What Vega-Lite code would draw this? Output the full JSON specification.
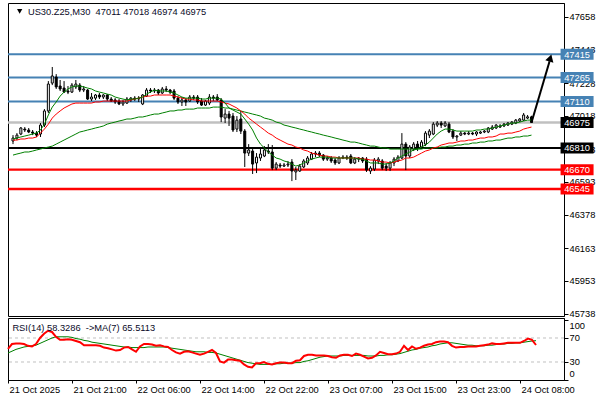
{
  "$schema": "https://vega.github.io/schema/vega-lite/v6.json",
  "padding": {"left": 3, "top": 2, "right": 0, "bottom": 0},
  "background": "white",
  "bounds": "flush",
  "spacing": 2,
  "config": {
    "view": {"stroke": "black", "strokeWidth": 1},
    "axis": {"labelFont": "Liberation Sans", "labelFontSize": 9.3, "labelColor": "black", "tickColor": "black", "domainColor": "black", "grid": false, "title": null, "labelOverlap": false},
    "text": {"font": "Liberation Sans"}
  },
  "resolve": {"scale": {"x": "independent", "y": "independent"}},
  "datasets": {
    "levels": [
      {"level": 47415, "group": "resistance"},
      {"level": 47265, "group": "resistance"},
      {"level": 47110, "group": "resistance"},
      {"level": 46975, "group": "current"},
      {"level": 46810, "group": "pivot"},
      {"level": 46670, "group": "support"},
      {"level": 46545, "group": "support"}
    ],
    "rsiLevels": [{"lvl": 30}, {"lvl": 70}],
    "bars": [
      {"i":0,"o":46855,"h":46893,"l":46835,"c":46874,"f":46868,"m":46861,"s":46764,"r":52,"rm":45},
      {"i":1,"o":46874,"h":46906,"l":46861,"c":46893,"f":46874,"m":46861,"s":46771,"r":60,"rm":48},
      {"i":2,"o":46900,"h":46945,"l":46893,"c":46939,"f":46881,"m":46868,"s":46777,"r":61,"rm":51},
      {"i":3,"o":46932,"h":46945,"l":46913,"c":46926,"f":46887,"m":46868,"s":46784,"r":61,"rm":53},
      {"i":4,"o":46926,"h":46939,"l":46906,"c":46913,"f":46893,"m":46874,"s":46784,"r":60,"rm":55},
      {"i":5,"o":46913,"h":46926,"l":46893,"c":46906,"f":46900,"m":46874,"s":46790,"r":57,"rm":56},
      {"i":6,"o":46906,"h":46919,"l":46881,"c":46893,"f":46906,"m":46881,"s":46797,"r":56,"rm":57},
      {"i":7,"o":46900,"h":46971,"l":46881,"c":46958,"f":46926,"m":46906,"s":46803,"r":60,"rm":58},
      {"i":8,"o":46958,"h":47061,"l":46945,"c":47049,"f":46964,"m":46932,"s":46810,"r":70,"rm":61},
      {"i":9,"o":47049,"h":47242,"l":47036,"c":47223,"f":47023,"m":46964,"s":46816,"r":77,"rm":64},
      {"i":10,"o":47229,"h":47333,"l":47216,"c":47275,"f":47074,"m":47003,"s":46822,"r":82,"rm":67},
      {"i":11,"o":47268,"h":47287,"l":47191,"c":47204,"f":47107,"m":47029,"s":46835,"r":80,"rm":70},
      {"i":12,"o":47210,"h":47249,"l":47178,"c":47191,"f":47145,"m":47049,"s":46848,"r":72,"rm":72},
      {"i":13,"o":47197,"h":47242,"l":47165,"c":47171,"f":47171,"m":47068,"s":46861,"r":67,"rm":72},
      {"i":14,"o":47178,"h":47210,"l":47158,"c":47171,"f":47191,"m":47081,"s":46874,"r":67,"rm":72},
      {"i":15,"o":47171,"h":47229,"l":47165,"c":47216,"f":47204,"m":47094,"s":46887,"r":68,"rm":72},
      {"i":16,"o":47204,"h":47249,"l":47191,"c":47223,"f":47210,"m":47100,"s":46900,"r":67,"rm":71},
      {"i":17,"o":47216,"h":47229,"l":47171,"c":47184,"f":47210,"m":47100,"s":46913,"r":65,"rm":69},
      {"i":18,"o":47184,"h":47210,"l":47171,"c":47191,"f":47204,"m":47100,"s":46919,"r":63,"rm":68},
      {"i":19,"o":47184,"h":47191,"l":47120,"c":47126,"f":47197,"m":47100,"s":46926,"r":58,"rm":66},
      {"i":20,"o":47126,"h":47165,"l":47113,"c":47139,"f":47191,"m":47100,"s":46932,"r":58,"rm":65},
      {"i":21,"o":47132,"h":47158,"l":47120,"c":47152,"f":47178,"m":47107,"s":46939,"r":58,"rm":63},
      {"i":22,"o":47152,"h":47165,"l":47126,"c":47139,"f":47171,"m":47107,"s":46945,"r":58,"rm":62},
      {"i":23,"o":47139,"h":47158,"l":47126,"c":47152,"f":47165,"m":47113,"s":46952,"r":57,"rm":61},
      {"i":24,"o":47152,"h":47158,"l":47113,"c":47126,"f":47158,"m":47113,"s":46964,"r":54,"rm":60},
      {"i":25,"o":47126,"h":47139,"l":47107,"c":47113,"f":47152,"m":47113,"s":46971,"r":53,"rm":59},
      {"i":26,"o":47120,"h":47132,"l":47094,"c":47107,"f":47139,"m":47113,"s":46977,"r":51,"rm":58},
      {"i":27,"o":47113,"h":47126,"l":47087,"c":47094,"f":47132,"m":47113,"s":46984,"r":49,"rm":57},
      {"i":28,"o":47094,"h":47120,"l":47081,"c":47107,"f":47126,"m":47113,"s":46990,"r":50,"rm":56},
      {"i":29,"o":47100,"h":47139,"l":47094,"c":47126,"f":47120,"m":47113,"s":46997,"r":54,"rm":55},
      {"i":30,"o":47120,"h":47139,"l":47107,"c":47132,"f":47126,"m":47120,"s":46997,"r":55,"rm":55},
      {"i":31,"o":47132,"h":47145,"l":47113,"c":47126,"f":47126,"m":47126,"s":47003,"r":51,"rm":54},
      {"i":32,"o":47126,"h":47145,"l":47107,"c":47132,"f":47132,"m":47132,"s":47010,"r":47,"rm":54},
      {"i":33,"o":47094,"h":47158,"l":47087,"c":47152,"f":47139,"m":47139,"s":47010,"r":56,"rm":54},
      {"i":34,"o":47145,"h":47197,"l":47139,"c":47184,"f":47158,"m":47145,"s":47016,"r":60,"rm":54},
      {"i":35,"o":47184,"h":47197,"l":47165,"c":47178,"f":47171,"m":47145,"s":47023,"r":60,"rm":55},
      {"i":36,"o":47178,"h":47197,"l":47165,"c":47184,"f":47184,"m":47152,"s":47029,"r":59,"rm":55},
      {"i":37,"o":47184,"h":47191,"l":47152,"c":47165,"f":47178,"m":47152,"s":47029,"r":57,"rm":55},
      {"i":38,"o":47165,"h":47204,"l":47158,"c":47191,"f":47178,"m":47152,"s":47036,"r":58,"rm":55},
      {"i":39,"o":47191,"h":47210,"l":47171,"c":47184,"f":47178,"m":47152,"s":47042,"r":56,"rm":55},
      {"i":40,"o":47184,"h":47191,"l":47158,"c":47171,"f":47171,"m":47152,"s":47049,"r":55,"rm":54},
      {"i":41,"o":47178,"h":47191,"l":47120,"c":47132,"f":47165,"m":47145,"s":47049,"r":50,"rm":53},
      {"i":42,"o":47132,"h":47145,"l":47094,"c":47107,"f":47152,"m":47139,"s":47055,"r":46,"rm":52},
      {"i":43,"o":47107,"h":47139,"l":47081,"c":47120,"f":47139,"m":47132,"s":47055,"r":44,"rm":51},
      {"i":44,"o":47120,"h":47132,"l":47081,"c":47107,"f":47132,"m":47126,"s":47061,"r":47,"rm":50},
      {"i":45,"o":47113,"h":47152,"l":47107,"c":47139,"f":47132,"m":47126,"s":47061,"r":48,"rm":49},
      {"i":46,"o":47139,"h":47152,"l":47120,"c":47132,"f":47132,"m":47120,"s":47061,"r":46,"rm":48},
      {"i":47,"o":47139,"h":47152,"l":47094,"c":47107,"f":47132,"m":47120,"s":47068,"r":44,"rm":47},
      {"i":48,"o":47113,"h":47132,"l":47081,"c":47087,"f":47126,"m":47113,"s":47068,"r":42,"rm":47},
      {"i":49,"o":47087,"h":47120,"l":47081,"c":47113,"f":47126,"m":47113,"s":47068,"r":44,"rm":47},
      {"i":50,"o":47100,"h":47158,"l":47087,"c":47139,"f":47132,"m":47113,"s":47068,"r":47,"rm":46},
      {"i":51,"o":47139,"h":47152,"l":47113,"c":47132,"f":47132,"m":47113,"s":47074,"r":50,"rm":46},
      {"i":52,"o":47139,"h":47158,"l":47113,"c":47120,"f":47132,"m":47113,"s":47074,"r":45,"rm":45},
      {"i":53,"o":47120,"h":47132,"l":46977,"c":47010,"f":47126,"m":47107,"s":47074,"r":31,"rm":43},
      {"i":54,"o":47003,"h":47061,"l":46971,"c":47029,"f":47100,"m":47100,"s":47068,"r":29,"rm":41},
      {"i":55,"o":47029,"h":47049,"l":46952,"c":47003,"f":47068,"m":47094,"s":47068,"r":34,"rm":39},
      {"i":56,"o":47016,"h":47036,"l":46913,"c":46926,"f":47055,"m":47081,"s":47061,"r":34,"rm":37},
      {"i":57,"o":46932,"h":47016,"l":46913,"c":46990,"f":47042,"m":47068,"s":47055,"r":33,"rm":35},
      {"i":58,"o":46997,"h":47049,"l":46900,"c":46919,"f":47029,"m":47049,"s":47049,"r":32,"rm":33},
      {"i":59,"o":46919,"h":46932,"l":46687,"c":46777,"f":46997,"m":47029,"s":47042,"r":26,"rm":31},
      {"i":60,"o":46777,"h":46835,"l":46758,"c":46797,"f":46964,"m":47003,"s":47036,"r":22,"rm":29},
      {"i":61,"o":46790,"h":46803,"l":46642,"c":46706,"f":46926,"m":46984,"s":47029,"r":21,"rm":28},
      {"i":62,"o":46713,"h":46777,"l":46648,"c":46751,"f":46874,"m":46964,"s":47023,"r":28,"rm":27},
      {"i":63,"o":46745,"h":46803,"l":46726,"c":46771,"f":46835,"m":46945,"s":47016,"r":28,"rm":26},
      {"i":64,"o":46758,"h":46822,"l":46751,"c":46797,"f":46810,"m":46926,"s":47003,"r":30,"rm":26},
      {"i":65,"o":46790,"h":46835,"l":46771,"c":46784,"f":46784,"m":46906,"s":46997,"r":27,"rm":26},
      {"i":66,"o":46784,"h":46829,"l":46667,"c":46680,"f":46764,"m":46893,"s":46990,"r":26,"rm":26},
      {"i":67,"o":46680,"h":46719,"l":46667,"c":46706,"f":46745,"m":46874,"s":46977,"r":28,"rm":27},
      {"i":68,"o":46700,"h":46713,"l":46680,"c":46693,"f":46738,"m":46861,"s":46971,"r":29,"rm":27},
      {"i":69,"o":46693,"h":46713,"l":46687,"c":46700,"f":46726,"m":46848,"s":46958,"r":29,"rm":28},
      {"i":70,"o":46700,"h":46726,"l":46687,"c":46706,"f":46719,"m":46835,"s":46952,"r":28,"rm":28},
      {"i":71,"o":46719,"h":46738,"l":46596,"c":46661,"f":46706,"m":46829,"s":46945,"r":28,"rm":28},
      {"i":72,"o":46655,"h":46687,"l":46603,"c":46667,"f":46693,"m":46816,"s":46939,"r":32,"rm":29},
      {"i":73,"o":46661,"h":46706,"l":46655,"c":46693,"f":46700,"m":46810,"s":46932,"r":33,"rm":29},
      {"i":74,"o":46687,"h":46738,"l":46680,"c":46726,"f":46713,"m":46797,"s":46926,"r":40,"rm":31},
      {"i":75,"o":46713,"h":46758,"l":46700,"c":46745,"f":46726,"m":46790,"s":46919,"r":42,"rm":32},
      {"i":76,"o":46738,"h":46784,"l":46732,"c":46771,"f":46738,"m":46777,"s":46913,"r":42,"rm":34},
      {"i":77,"o":46771,"h":46790,"l":46751,"c":46777,"f":46745,"m":46771,"s":46906,"r":41,"rm":36},
      {"i":78,"o":46777,"h":46790,"l":46751,"c":46764,"f":46751,"m":46764,"s":46900,"r":41,"rm":38},
      {"i":79,"o":46764,"h":46771,"l":46726,"c":46738,"f":46751,"m":46758,"s":46893,"r":41,"rm":39},
      {"i":80,"o":46738,"h":46758,"l":46726,"c":46745,"f":46751,"m":46758,"s":46887,"r":40,"rm":40},
      {"i":81,"o":46745,"h":46758,"l":46713,"c":46726,"f":46745,"m":46751,"s":46881,"r":38,"rm":40},
      {"i":82,"o":46732,"h":46745,"l":46700,"c":46713,"f":46745,"m":46751,"s":46874,"r":37,"rm":40},
      {"i":83,"o":46713,"h":46758,"l":46706,"c":46745,"f":46745,"m":46745,"s":46868,"r":41,"rm":40},
      {"i":84,"o":46745,"h":46764,"l":46738,"c":46751,"f":46745,"m":46745,"s":46861,"r":42,"rm":41},
      {"i":85,"o":46751,"h":46764,"l":46732,"c":46745,"f":46745,"m":46745,"s":46855,"r":42,"rm":41},
      {"i":86,"o":46758,"h":46771,"l":46706,"c":46713,"f":46745,"m":46745,"s":46848,"r":40,"rm":41},
      {"i":87,"o":46713,"h":46751,"l":46706,"c":46738,"f":46745,"m":46745,"s":46848,"r":44,"rm":41},
      {"i":88,"o":46738,"h":46751,"l":46719,"c":46745,"f":46738,"m":46745,"s":46842,"r":42,"rm":41},
      {"i":89,"o":46745,"h":46751,"l":46713,"c":46726,"f":46738,"m":46738,"s":46835,"r":39,"rm":41},
      {"i":90,"o":46738,"h":46751,"l":46655,"c":46667,"f":46726,"m":46738,"s":46829,"r":36,"rm":40},
      {"i":91,"o":46661,"h":46693,"l":46642,"c":46680,"f":46713,"m":46732,"s":46822,"r":37,"rm":40},
      {"i":92,"o":46674,"h":46745,"l":46661,"c":46732,"f":46713,"m":46732,"s":46822,"r":41,"rm":40},
      {"i":93,"o":46726,"h":46751,"l":46706,"c":46738,"f":46713,"m":46726,"s":46816,"r":47,"rm":41},
      {"i":94,"o":46726,"h":46738,"l":46667,"c":46680,"f":46706,"m":46719,"s":46810,"r":45,"rm":41},
      {"i":95,"o":46693,"h":46713,"l":46661,"c":46680,"f":46706,"m":46719,"s":46810,"r":43,"rm":42},
      {"i":96,"o":46680,"h":46726,"l":46661,"c":46713,"f":46713,"m":46713,"s":46803,"r":43,"rm":42},
      {"i":97,"o":46713,"h":46751,"l":46693,"c":46738,"f":46726,"m":46719,"s":46803,"r":44,"rm":43},
      {"i":98,"o":46726,"h":46764,"l":46719,"c":46751,"f":46745,"m":46726,"s":46803,"r":47,"rm":44},
      {"i":99,"o":46745,"h":46906,"l":46738,"c":46835,"f":46758,"m":46732,"s":46803,"r":57,"rm":46},
      {"i":100,"o":46835,"h":46848,"l":46667,"c":46758,"f":46771,"m":46745,"s":46803,"r":50,"rm":48},
      {"i":101,"o":46758,"h":46829,"l":46745,"c":46816,"f":46784,"m":46745,"s":46803,"r":56,"rm":50},
      {"i":102,"o":46803,"h":46848,"l":46790,"c":46835,"f":46797,"m":46751,"s":46803,"r":52,"rm":51},
      {"i":103,"o":46835,"h":46855,"l":46790,"c":46816,"f":46803,"m":46764,"s":46803,"r":54,"rm":53},
      {"i":104,"o":46816,"h":46861,"l":46810,"c":46848,"f":46816,"m":46777,"s":46803,"r":57,"rm":54},
      {"i":105,"o":46835,"h":46919,"l":46822,"c":46906,"f":46829,"m":46790,"s":46810,"r":59,"rm":55},
      {"i":106,"o":46893,"h":46932,"l":46874,"c":46919,"f":46848,"m":46797,"s":46810,"r":60,"rm":57},
      {"i":107,"o":46900,"h":46977,"l":46893,"c":46964,"f":46874,"m":46810,"s":46810,"r":63,"rm":58},
      {"i":108,"o":46958,"h":46984,"l":46945,"c":46971,"f":46900,"m":46816,"s":46810,"r":64,"rm":60},
      {"i":109,"o":46971,"h":46984,"l":46939,"c":46958,"f":46919,"m":46829,"s":46816,"r":64,"rm":61},
      {"i":110,"o":46952,"h":46984,"l":46945,"c":46971,"f":46932,"m":46835,"s":46816,"r":63,"rm":62},
      {"i":111,"o":46964,"h":46977,"l":46906,"c":46913,"f":46932,"m":46842,"s":46822,"r":57,"rm":62},
      {"i":112,"o":46919,"h":46932,"l":46868,"c":46881,"f":46926,"m":46842,"s":46822,"r":54,"rm":61},
      {"i":113,"o":46881,"h":46893,"l":46855,"c":46887,"f":46919,"m":46848,"s":46829,"r":55,"rm":60},
      {"i":114,"o":46893,"h":46919,"l":46887,"c":46906,"f":46919,"m":46855,"s":46829,"r":55,"rm":59},
      {"i":115,"o":46906,"h":46913,"l":46893,"c":46900,"f":46919,"m":46855,"s":46835,"r":56,"rm":58},
      {"i":116,"o":46900,"h":46919,"l":46893,"c":46906,"f":46919,"m":46861,"s":46835,"r":56,"rm":58},
      {"i":117,"o":46906,"h":46913,"l":46893,"c":46900,"f":46919,"m":46861,"s":46842,"r":56,"rm":57},
      {"i":118,"o":46900,"h":46919,"l":46887,"c":46913,"f":46926,"m":46868,"s":46842,"r":57,"rm":57},
      {"i":119,"o":46906,"h":46919,"l":46900,"c":46913,"f":46926,"m":46874,"s":46848,"r":58,"rm":57},
      {"i":120,"o":46913,"h":46926,"l":46906,"c":46919,"f":46932,"m":46874,"s":46848,"r":59,"rm":58},
      {"i":121,"o":46913,"h":46945,"l":46906,"c":46939,"f":46932,"m":46881,"s":46855,"r":61,"rm":58},
      {"i":122,"o":46932,"h":46958,"l":46926,"c":46945,"f":46939,"m":46881,"s":46855,"r":60,"rm":59},
      {"i":123,"o":46939,"h":46964,"l":46932,"c":46958,"f":46945,"m":46887,"s":46861,"r":60,"rm":60},
      {"i":124,"o":46945,"h":46964,"l":46939,"c":46952,"f":46952,"m":46900,"s":46861,"r":61,"rm":60},
      {"i":125,"o":46952,"h":46971,"l":46945,"c":46964,"f":46958,"m":46900,"s":46868,"r":62,"rm":61},
      {"i":126,"o":46958,"h":46977,"l":46952,"c":46971,"f":46964,"m":46906,"s":46874,"r":62,"rm":61},
      {"i":127,"o":46964,"h":46984,"l":46958,"c":46977,"f":46971,"m":46906,"s":46874,"r":62,"rm":62},
      {"i":128,"o":46971,"h":46997,"l":46964,"c":46990,"f":46971,"m":46913,"s":46881,"r":62,"rm":62},
      {"i":129,"o":46984,"h":47003,"l":46977,"c":46997,"f":46977,"m":46919,"s":46881,"r":65,"rm":63},
      {"i":130,"o":46990,"h":47036,"l":46984,"c":47023,"f":46984,"m":46932,"s":46887,"r":69,"rm":64},
      {"i":131,"o":47003,"h":47023,"l":46997,"c":47011,"f":46990,"m":46939,"s":46887,"r":67,"rm":65},
      {"i":132,"o":47011,"h":47018,"l":46974,"c":46975,"f":46990,"m":46945,"s":46893,"r":58.33,"rm":65.51}
    ]
  },
  "vconcat": [
    {
      "width": 556,
      "height": 313,
      "layer": [
        {
          "data": {"name": "levels"},
          "mark": {"type": "rule"},
          "encoding": {
            "y": {"field": "level", "type": "quantitative", "scale": {"domain": [45724.7, 47746.3], "nice": false, "zero": false},
                  "axis": {"orient": "right", "values": [45738, 45953, 46163, 46378, 46593, 46803, 47018, 47228, 47443, 47658], "tickCount": 30, "format": "d", "tickSize": 4, "labelPadding": 1, "labelOverlap": false, "labelBound": false}},
            "stroke": {"field": "group", "type": "nominal", "scale": {"domain": ["resistance", "pivot", "support", "current"], "range": ["#4682B4", "#000000", "#FF0000", "#C0C0C0"]}, "legend": null},
            "strokeWidth": {"field": "group", "type": "nominal", "scale": {"domain": ["resistance", "pivot", "support", "current"], "range": [2, 2.5, 2, 1]}, "legend": null}
          }
        },
        {
          "data": {"name": "bars"},
          "mark": {"type": "rule", "color": "black", "strokeWidth": 1},
          "encoding": {
            "x": {"field": "i", "type": "quantitative", "scale": {"domain": [0, 139], "nice": false, "zero": false}, "axis": null},
            "y": {"field": "l", "type": "quantitative", "scale": {"domain": [45724.7, 47746.3], "nice": false, "zero": false}},
            "y2": {"field": "h"}
          }
        },
        {
          "data": {"name": "bars"},
          "mark": {"type": "bar", "width": 2, "stroke": "black", "strokeWidth": 1},
          "encoding": {
            "x": {"field": "i", "type": "quantitative", "scale": {"domain": [0, 139], "nice": false, "zero": false}, "axis": null},
            "y": {"field": "o", "type": "quantitative", "scale": {"domain": [45724.7, 47746.3], "nice": false, "zero": false}},
            "y2": {"field": "c"},
            "fill": {"condition": {"test": "datum.c > datum.o", "value": "white"}, "value": "black"}
          }
        },
        {
          "data": {"name": "bars"},
          "mark": {"type": "line", "color": "#008000", "strokeWidth": 1},
          "encoding": {
            "x": {"field": "i", "type": "quantitative", "scale": {"domain": [0, 139], "nice": false, "zero": false}, "axis": null},
            "y": {"field": "s", "type": "quantitative", "scale": {"domain": [45724.7, 47746.3], "nice": false, "zero": false}}
          }
        },
        {
          "data": {"name": "bars"},
          "mark": {"type": "line", "color": "#FF0000", "strokeWidth": 1},
          "encoding": {
            "x": {"field": "i", "type": "quantitative", "scale": {"domain": [0, 139], "nice": false, "zero": false}, "axis": null},
            "y": {"field": "m", "type": "quantitative", "scale": {"domain": [45724.7, 47746.3], "nice": false, "zero": false}}
          }
        },
        {
          "data": {"name": "bars"},
          "mark": {"type": "line", "color": "#008000", "strokeWidth": 1},
          "encoding": {
            "x": {"field": "i", "type": "quantitative", "scale": {"domain": [0, 139], "nice": false, "zero": false}, "axis": null},
            "y": {"field": "f", "type": "quantitative", "scale": {"domain": [45724.7, 47746.3], "nice": false, "zero": false}}
          }
        },
        {
          "data": {"name": "levels"},
          "mark": {"type": "tick", "orient": "horizontal", "size": 33, "thickness": 11, "opacity": 1, "filled": true},
          "encoding": {
            "x": {"datum": 143.6, "type": "quantitative"},
            "y": {"field": "level", "type": "quantitative"},
            "fill": {"field": "group", "type": "nominal", "scale": {"domain": ["resistance", "pivot", "support", "current"], "range": ["#4682B4", "#000000", "#FF0000", "#000000"]}, "legend": null}
          }
        },
        {
          "data": {"name": "levels"},
          "mark": {"type": "text", "color": "white", "fontSize": 9.3, "align": "center", "baseline": "middle", "dy": 0.5},
          "encoding": {
            "x": {"datum": 143.6, "type": "quantitative"},
            "y": {"field": "level", "type": "quantitative"},
            "text": {"field": "level", "type": "quantitative", "format": "d"}
          }
        },
        {
          "data": {"values": [{}]},
          "mark": {"type": "rule", "color": "black", "strokeWidth": 2},
          "encoding": {
            "x": {"datum": 132, "type": "quantitative"},
            "y": {"datum": 46975, "type": "quantitative"},
            "x2": {"datum": 136.6},
            "y2": {"datum": 47370}
          }
        },
        {
          "data": {"values": [{}]},
          "mark": {"type": "point", "shape": "triangle-up", "filled": true, "color": "black", "opacity": 1, "size": 70, "angle": 16},
          "encoding": {
            "x": {"datum": 136.8, "type": "quantitative"},
            "y": {"datum": 47391, "type": "quantitative"}
          }
        },
        {
          "data": {"values": [{}]},
          "mark": {"type": "point", "shape": "triangle-down", "filled": true, "color": "black", "opacity": 1, "size": 28},
          "encoding": {
            "x": {"datum": 1.7, "type": "quantitative"},
            "y": {"datum": 47692, "type": "quantitative"}
          }
        },
        {
          "data": {"values": [{}]},
          "mark": {"type": "text", "align": "left", "baseline": "middle", "fontSize": 9.3, "color": "#0a0a28"},
          "encoding": {
            "x": {"datum": 3.8, "type": "quantitative"},
            "y": {"datum": 47690, "type": "quantitative"},
            "text": {"value": "US30.Z25,M30 \u00a047011 47018 46974 46975"}
          }
        }
      ]
    },
    {
      "width": 556,
      "height": 62,
      "layer": [
        {
          "data": {"name": "rsiLevels"},
          "mark": {"type": "rule", "color": "#C0C0C0", "strokeWidth": 1, "strokeDash": [3, 3]},
          "encoding": {
            "y": {"field": "lvl", "type": "quantitative", "scale": {"domain": [0, 103.3], "nice": false, "zero": false},
                  "axis": {"orient": "right", "values": [0, 30, 70, 100], "tickCount": 10, "tickSize": 4, "labelPadding": 1, "labelFlush": false, "labelOverlap": false, "labelBound": false,
                           "labelOffset": {"condition": [{"test": "datum.value == 100", "value": 6}, {"test": "datum.value == 0", "value": -7}], "value": 0}}}
          }
        },
        {
          "data": {"name": "bars"},
          "mark": {"type": "line", "color": "#008000", "strokeWidth": 1},
          "encoding": {
            "x": {"field": "i", "type": "quantitative", "scale": {"domain": [0, 139], "nice": false, "zero": false},
                  "axis": {"values": [0, 16, 32, 48, 64, 80, 96, 112, 128], "tickCount": 20,
                           "labelExpr": "['21 Oct 2025','21 Oct 21:00','22 Oct 06:00','22 Oct 14:00','22 Oct 22:00','23 Oct 07:00','23 Oct 15:00','23 Oct 23:00','24 Oct 08:00'][round(datum.value/16)]",
                           "labelAlign": "left", "tickSize": 3, "labelPadding": 2, "labelOffset": 1, "labelFlush": false, "labelOverlap": false, "labelBound": false}},
            "y": {"field": "rm", "type": "quantitative", "scale": {"domain": [0, 103.3], "nice": false, "zero": false}}
          }
        },
        {
          "data": {"name": "bars"},
          "mark": {"type": "line", "color": "#FF0000", "strokeWidth": 2},
          "encoding": {
            "x": {"field": "i", "type": "quantitative", "scale": {"domain": [0, 139], "nice": false, "zero": false}},
            "y": {"field": "r", "type": "quantitative", "scale": {"domain": [0, 103.3], "nice": false, "zero": false}}
          }
        },
        {
          "data": {"values": [{}]},
          "mark": {"type": "text", "align": "left", "baseline": "middle", "fontSize": 9.3, "color": "#0a0a28"},
          "encoding": {
            "x": {"datum": 1.1, "type": "quantitative"},
            "y": {"datum": 87, "type": "quantitative"},
            "text": {"value": "RSI(14) 58.3286 \u00a0->MA(7) 65.5113"}
          }
        }
      ]
    }
  ]
}
